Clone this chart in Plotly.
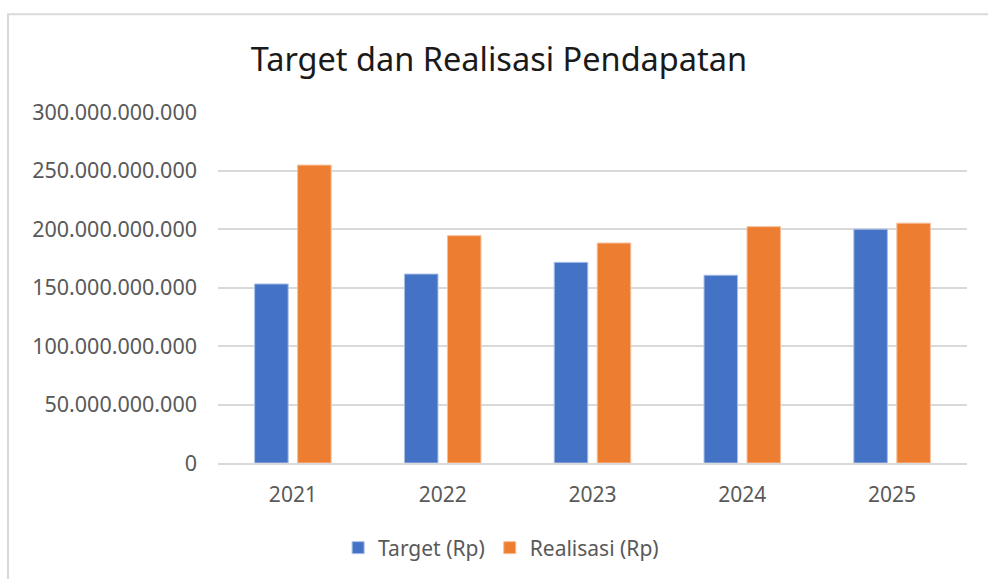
import plotly.graph_objects as go

years = ["2021", "2022", "2023", "2024", "2025"]
target = [153e9, 161.5e9, 171.5e9, 160.5e9, 199.8e9]
realisasi = [254.6e9, 194.3e9, 188e9, 202e9, 205e9]
tick_vals = [0, 50e9, 100e9, 150e9, 200e9, 250e9, 300e9]

W, H = 988, 579
L, R, T, B = 218, 21, 112, 115
pw, ph = W - L - R, H - T - B

fig = go.Figure()
fig.add_trace(go.Bar(name="Target (Rp)", x=years, y=target,
                     marker=dict(color="#4472C4", line=dict(color="#A9BEE6", width=1))))
fig.add_trace(go.Bar(name="Realisasi (Rp)", x=years, y=realisasi,
                     marker=dict(color="#ED7D31", line=dict(color="#F7BE97", width=1))))

fig.update_layout(
    width=W, height=H,
    margin=dict(l=L, r=R, t=T, b=B),
    paper_bgcolor="white", plot_bgcolor="white",
    separators=",.",
    barmode="group", bargap=0.426, bargroupgap=0.22,
    font=dict(family="Noto Sans, sans-serif", color="#595959", size=21),
    title=dict(text="Target dan Realisasi Pendapatan", x=0.505, xanchor="center",
               y=1 - 60 / H, yanchor="middle",
               font=dict(family="Noto Sans, sans-serif", size=32.5, color="#1a1a1a")),
    legend=dict(orientation="h", x=0.378, xanchor="center", y=-(548 - 464) / ph,
                yanchor="middle", font=dict(size=21, color="#595959"),
                itemwidth=30, traceorder="normal"),
    xaxis=dict(showgrid=False, showline=True, linecolor="#d9d9d9", linewidth=2,
               ticks="", tickfont=dict(size=21, color="#595959"), ticklabelstandoff=12),
    yaxis=dict(range=[0, 300e9], tickvals=tick_vals, tickformat=",d",
               showgrid=True, gridcolor="#d9d9d9", gridwidth=2,
               zeroline=False, showline=False, ticks="",
               tickfont=dict(size=21.5, color="#595959"), ticklabelstandoff=20),
    shapes=[dict(type="rect", xref="paper", yref="paper",
                 x0=(8 - L) / pw, x1=(W + 5 - L) / pw,
                 y0=(H - B - (H + 5)) / ph, y1=(H - B - 14) / ph,
                 line=dict(color="#d9d9d9", width=2), layer="below")],
)

fig.write_html("out.html")
